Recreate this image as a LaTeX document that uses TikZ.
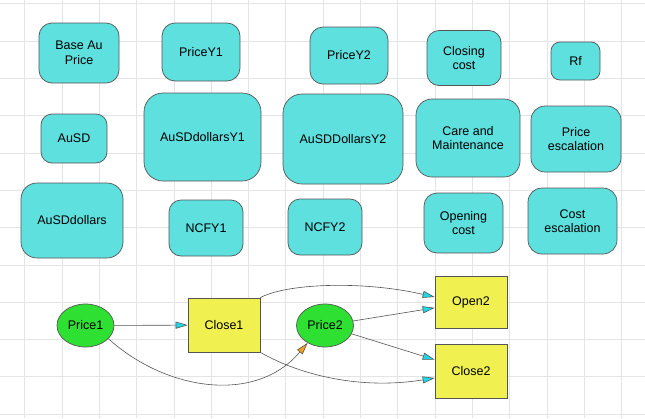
\documentclass[tikz,border=0pt]{standalone}
\usepackage{fontspec}
\setmainfont{Liberation Sans}
\usetikzlibrary{arrows.meta,shapes.geometric}

\definecolor{boxcyan}{RGB}{93,224,222}
\definecolor{nodegreen}{RGB}{46,224,50}
\definecolor{nodeyellow}{RGB}{240,240,80}
\definecolor{tipcyan}{RGB}{30,216,232}
\definecolor{tiporange}{RGB}{240,160,30}
\definecolor{gridgray}{RGB}{228,228,228}
\definecolor{edgegray}{RGB}{85,85,85}

\tikzset{
  var/.style={draw=edgegray, line width=0.7pt, fill=boxcyan, rounded corners=12pt,
    align=center, inner sep=0pt, font=\fontsize{12.5}{14.5}\selectfont},
  chance/.style={ellipse, draw=edgegray, line width=0.7pt, fill=nodegreen, inner sep=0pt,
    minimum width=57pt, minimum height=43pt, font=\fontsize{12.5}{14.5}\selectfont},
  decision/.style={draw=edgegray, line width=0.7pt, fill=nodeyellow, inner sep=0pt,
    minimum width=72pt, minimum height=53pt, font=\fontsize{12.5}{14.5}\selectfont},
  link/.style={draw=edgegray, line width=0.6pt, -{Triangle[length=12pt,width=7pt,fill=tipcyan]}},
}

\begin{document}
\begin{tikzpicture}
  [x=1pt, y=-1pt]
  \fill[white] (0,0) rectangle (645,418);
  \useasboundingbox (0,0) rectangle (645,418);
  \foreach \gx in {0,...,16}
  \draw[gridgray, line width=0.8pt] ({24.7+37.3*\gx},0) -- ++(0,418);
  \foreach \gy in {0,...,11}
  \draw[gridgray, line width=0.8pt] (0,{3.8+37.3*\gy}) -- ++(645,0);

  % variables
  \node[var, minimum width=80pt, minimum height=60pt, rounded corners=13pt] (bap) at (79, 53) {Base Au\\Price};
  \node[var, minimum width=78pt, minimum height=58pt, rounded corners=13pt] (py1) at (201, 52) {PriceY1};
  \node[var, minimum width=78pt, minimum height=57pt, rounded corners=13pt] (py2) at (349, 55.5) {PriceY2};
  \node[var, minimum width=74pt, minimum height=55pt] (cc) at (464, 58) {Closing\\cost};
  \node[var, minimum width=49pt, minimum height=38pt, rounded corners=9pt] (rf) at (575.5, 61) {Rf};
  \node[var, minimum width=66pt, minimum height=49pt, rounded corners=11pt] (ausd) at (74, 138.5) {AuSD};
  \node[var, minimum width=117pt, minimum height=88pt, rounded corners=19pt] (ady1) at (202.5, 137) {AuSDdollarsY1};
  \node[var, minimum width=120pt, minimum height=90pt, rounded corners=19pt] (ady2) at (343, 139) {AuSDDollarsY2};
  \node[var, minimum width=104pt, minimum height=78pt, rounded corners=16pt] (cm) at (468, 138) {Care and\\Maintenance};
  \node[var, minimum width=90pt, minimum height=66pt, rounded corners=14pt] (pe) at (576, 139) {Price\\escalation};
  \node[var, minimum width=102pt, minimum height=75pt, rounded corners=16pt] (ad) at (72, 220.5) {AuSDdollars};
  \node[var, minimum width=74pt, minimum height=56pt] (ncf1) at (206, 228) {NCFY1};
  \node[var, minimum width=74pt, minimum height=56pt] (ncf2) at (325, 227) {NCFY2};
  \node[var, minimum width=79pt, minimum height=60pt, rounded corners=13pt] (oc) at (463.5, 223) {Opening\\cost};
  \node[var, minimum width=89pt, minimum height=66pt, rounded corners=14pt] (ce) at (572.5, 221) {Cost\\escalation};

  % decision tree
  \node[chance] (p1) at (85.5, 325.5) {Price1};
  \node[decision, minimum height=54pt] (c1) at (224, 325) {Close1};
  \node[chance] (p2) at (325, 325.5) {Price2};
  \node[decision, minimum height=52pt] (o2) at (471, 302) {Open2};
  \node[decision, minimum height=54pt] (c2) at (471, 371) {Close2};

  \foreach \from/\to in {p1/c1,p2/o2,p2/c2}
  \draw[link] (\from) -- (\to);
  \draw[link] (c1.north east) .. controls (285,284) and (360,280) .. ([yshift=5pt]o2.west);
  \draw[link] (c1.south east) .. controls (300,375) and (360,390) .. ([yshift=-7pt]c2.west);
  \draw[link, -{Triangle[length=12pt,width=7pt,fill=tiporange]}]
    (p1.-30) .. controls (165,390) and (255,405) .. (p2.-135);

\end{tikzpicture}
\end{document}
